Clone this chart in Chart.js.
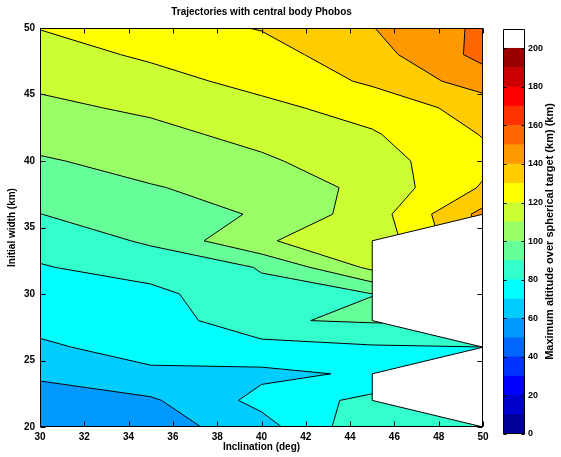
<!DOCTYPE html>
<html>
<head>
<meta charset="utf-8">
<script src="https://cdn.jsdelivr.net/npm/chart.js@4.4.1/dist/chart.umd.min.js"></script>
<style>
  html, body { margin: 0; padding: 0; background: #fff; }
  #wrap { position: relative; width: 561px; height: 457px; }
  #wrap canvas { position: absolute; top: 0; }
</style>
</head>
<body>
<div id="wrap">
  <canvas id="contourChart" width="561" height="457" style="left:0;width:561px;height:457px"></canvas>
  <canvas id="colorbarChart" width="71" height="457" style="left:490px;width:71px;height:457px"></canvas>
</div>
<script>
// Grid: inclination (deg) x initial width (km)
const inclination = [30, 35, 40, 45, 50];
const initialWidth = [20, 22, 24, 26, 28, 30, 32, 34, 36, 38, 40, 42, 44, 46, 48, 50];

// Maximum altitude (km) along each inclination column, bottom to top (null = no data)
const altitudeAt30 = [51, 56.5, 61.3, 69, 72, 75.7, 79.2, 84.5, 89.9, 94.5, 99.1, 103.4, 107.8, 112, 116, 120.3];
const altitudeAt35 = [55, 58.6, 68.8, 72.5, 73, 77, 85, 91.2, 95, 99.5, 103, 107.2, 111.7, 116.6, 121.5, 126];
const altitudeAt40 = [66, 73, 68, 76, 89.2, 88.5, 90.4, 109.5, 101, 103, 108.5, 113, 117.5, 123, 126.2, 130.5];
const altitudeAt45 = [88, 82.9, 71.2, 79, 91, 89.9, 112.3, 113, 115, 113, 116, 119, 124, 131.5, 136, 139.7];
const altitudeAt50 = [85, null, null, 79.9, null, null, null, null, 143, 131, 127.5, 130.5, 134, 145, 153, 152];

const altitudeColumns = [altitudeAt30, altitudeAt35, altitudeAt40, altitudeAt45, altitudeAt50];

// Contour levels and colours (jet, top band white)
const levels = [0, 10, 20, 30, 40, 50, 60, 70, 80, 90, 100, 110, 120, 130, 140, 150, 160, 170, 180, 190, 200, 210];
const bandColors = ['#000099', '#0000CC', '#0000FF', '#0033FF', '#0066FF', '#0099FF', '#00CCFF', '#00FFFF',
  '#33FFCC', '#66FF99', '#99FF66', '#CCFF33', '#FFFF00', '#FFCC00', '#FF9900', '#FF6600', '#FF3300',
  '#FF0000', '#CC0000', '#990000', '#FFFFFF'];
const colorbarTicks = [0, 20, 40, 60, 80, 100, 120, 140, 160, 180, 200];

const textFont = { family: '"Liberation Sans", Arial, sans-serif', size: 10, weight: 'bold' };
const smallFont = { family: '"Liberation Sans", Arial, sans-serif', size: 9, weight: 'bold' };
const fontCss = 'bold 10px "Liberation Sans", Arial, sans-serif';
const labelCss = 'bold 11px "Liberation Sans", Arial, sans-serif';

// grid points for the dataset
const gridPoints = [];
inclination.forEach((inc, i) => {
    initialWidth.forEach((w, j) => {
        if (altitudeColumns[i][j] !== null) gridPoints.push({ x: inc, y: w, v: altitudeColumns[i][j] });
    });
});

// Build cell polygons (quad, or triangle when one corner is missing)
function buildCells() {
    const cells = [];
    const edges = [];
    for (let i = 0; i < inclination.length - 1; i++) {
        for (let j = 0; j < initialWidth.length - 1; j++) {
            const corners = [
                { x: inclination[i], y: initialWidth[j], v: altitudeColumns[i][j] },
                { x: inclination[i + 1], y: initialWidth[j], v: altitudeColumns[i + 1][j] },
                { x: inclination[i + 1], y: initialWidth[j + 1], v: altitudeColumns[i + 1][j + 1] },
                { x: inclination[i], y: initialWidth[j + 1], v: altitudeColumns[i][j + 1] }
            ];
            const valid = corners.filter(c => c.v !== null);
            if (valid.length === 4) {
                cells.push(corners);
            } else if (valid.length === 3) {
                cells.push(valid);
                const k = corners.findIndex(c => c.v === null);
                edges.push([corners[(k + 1) % 4], corners[(k + 3) % 4]]);
            } else {
                for (let k = 0; k < 4; k++) {
                    const a = corners[k], b = corners[(k + 1) % 4];
                    if (a.v !== null && b.v !== null) edges.push([a, b]);
                }
            }
        }
    }
    return { cells, edges };
}

// Sutherland-Hodgman clip on the scalar value
function clipPoly(poly, L, keepAbove) {
    const inside = v => keepAbove ? v >= L : v <= L;
    const out = [];
    for (let i = 0; i < poly.length; i++) {
        const a = poly[i], b = poly[(i + 1) % poly.length];
        const ia = inside(a.v), ib = inside(b.v);
        if (ia) out.push(a);
        if (ia !== ib) {
            const t = (L - a.v) / (b.v - a.v);
            out.push({ x: a.x + t * (b.x - a.x), y: a.y + t * (b.y - a.y), v: L });
        }
    }
    return out;
}

// Contour segments for a level inside one cell
function levelSegments(poly, L) {
    const pts = [];
    for (let i = 0; i < poly.length; i++) {
        const a = poly[i], b = poly[(i + 1) % poly.length];
        const ia = a.v >= L, ib = b.v >= L;
        if (ia !== ib) {
            const t = (L - a.v) / (b.v - a.v);
            pts.push({ x: a.x + t * (b.x - a.x), y: a.y + t * (b.y - a.y), exit: ia });
        }
    }
    const segs = [];
    if (pts.length < 2) return segs;
    for (let k = 0; k < pts.length; k++) {
        if (pts[k].exit) segs.push([pts[k], pts[(k + 1) % pts.length]]);
    }
    return segs;
}

const contourPlugin = {
    id: 'contourFill',
    beforeDatasetsDraw(chart) {
        const { ctx, chartArea: area, scales: { x, y } } = chart;
        const toPx = p => [x.getPixelForValue(p.x), y.getPixelForValue(p.y)];
        const { cells, edges } = buildCells();
        ctx.save();
        ctx.beginPath();
        ctx.rect(area.left, area.top, area.width, area.height);
        ctx.clip();
        ctx.fillStyle = '#fff';
        ctx.fillRect(area.left, area.top, area.width, area.height);

        for (let k = 0; k < levels.length - 1; k++) {
            const lo = levels[k], hi = levels[k + 1];
            ctx.beginPath();
            let any = false;
            cells.forEach(poly => {
                let p = clipPoly(poly, lo, true);
                if (p.length < 3) return;
                p = clipPoly(p, hi, false);
                if (p.length < 3) return;
                any = true;
                p.forEach((pt, i) => {
                    const [X, Y] = toPx(pt);
                    if (i) ctx.lineTo(X, Y); else ctx.moveTo(X, Y);
                });
                ctx.closePath();
            });
            if (any) {
                ctx.fillStyle = bandColors[k];
                ctx.fill();
            }
        }

        ctx.strokeStyle = '#000';
        ctx.lineWidth = 1;
        ctx.lineJoin = 'round';
        ctx.beginPath();
        levels.forEach(L => {
            cells.forEach(poly => {
                levelSegments(poly, L).forEach(([a, b]) => {
                    const [ax, ay] = toPx(a), [bx, by] = toPx(b);
                    ctx.moveTo(ax, ay);
                    ctx.lineTo(bx, by);
                });
            });
        });
        edges.forEach(([a, b]) => {
            const [ax, ay] = toPx(a), [bx, by] = toPx(b);
            ctx.moveTo(ax, ay);
            ctx.lineTo(bx, by);
        });
        ctx.stroke();
        ctx.restore();
    },
    afterDatasetsDraw(chart) {
        const { ctx, chartArea: area, scales: { x, y } } = chart;
        const L = Math.round(area.left) + 0.5, R = Math.round(area.right) - 0.5;
        const T = Math.round(area.top) + 0.5, B = Math.round(area.bottom) - 0.5;
        ctx.save();
        ctx.strokeStyle = '#000';
        ctx.lineWidth = 1;
        ctx.beginPath();
        ctx.rect(L, T, R - L, B - T);
        x.ticks.forEach(t => {
            const X = Math.round(x.getPixelForValue(t.value)) + 0.5;
            ctx.moveTo(X, B); ctx.lineTo(X, B - 5);
            ctx.moveTo(X, T); ctx.lineTo(X, T + 5);
        });
        y.ticks.forEach(t => {
            const Y = Math.round(y.getPixelForValue(t.value)) + 0.5;
            ctx.moveTo(L, Y); ctx.lineTo(L + 5, Y);
            ctx.moveTo(R, Y); ctx.lineTo(R - 5, Y);
        });
        ctx.stroke();
        // title
        ctx.fillStyle = '#000';
        ctx.font = fontCss;
        ctx.textAlign = 'center';
        ctx.textBaseline = 'middle';
        ctx.fillText('Trajectories with central body Phobos', (area.left + area.right) / 2, 12);
        ctx.restore();
    }
};

new Chart(document.getElementById('contourChart'), {
    type: 'scatter',
    data: { datasets: [{ data: gridPoints, pointRadius: 0, showLine: false }] },
    options: {
        responsive: false,
        animation: false,
        layout: { padding: { top: 28, right: 78, left: 0, bottom: 0 } },
        plugins: { legend: { display: false }, tooltip: { enabled: false } },
        scales: {
            x: {
                type: 'linear', min: 30, max: 50,
                ticks: { stepSize: 2, font: textFont, color: '#000', padding: 4, maxRotation: 0 },
                grid: { display: false, drawTicks: false },
                border: { display: false },
                title: { display: true, text: 'Inclination (deg)', font: textFont, color: '#000', padding: { top: 0, bottom: 4 } },
                afterFit: s => { s.height = 30; }
            },
            y: {
                type: 'linear', min: 20, max: 50,
                ticks: { stepSize: 5, font: textFont, color: '#000', padding: 5 },
                grid: { display: false, drawTicks: false },
                border: { display: false },
                title: { display: true, text: 'Initial width (km)', font: textFont, color: '#000', padding: { top: 6, bottom: 0 } },
                afterFit: s => { s.width = 40; }
            }
        }
    },
    plugins: [contourPlugin]
});

// Colorbar
const colorbarFrame = {
    id: 'colorbarFrame',
    afterDatasetsDraw(chart) {
        const { ctx, chartArea: area, scales: { y } } = chart;
        const L = Math.round(area.left) + 0.5, R = Math.round(area.right) - 0.5;
        const T = Math.round(area.top) + 0.5, B = Math.round(area.bottom) - 0.5;
        ctx.save();
        ctx.strokeStyle = '#000';
        ctx.lineWidth = 1;
        ctx.beginPath();
        ctx.rect(L, T, R - L, B - T);
        y.ticks.forEach(t => {
            const Y = Math.round(y.getPixelForValue(t.value)) + 0.5;
            ctx.moveTo(L, Y); ctx.lineTo(L + 3, Y);
            ctx.moveTo(R, Y); ctx.lineTo(R - 3, Y);
        });
        ctx.stroke();
        ctx.fillStyle = '#000';
        ctx.font = labelCss;
        ctx.textAlign = 'center';
        ctx.textBaseline = 'middle';
        ctx.translate(60, (area.top + area.bottom) / 2);
        ctx.rotate(-Math.PI / 2);
        ctx.fillText('Maximum altitude over spherical target (km) (km)', 0, 0);
        ctx.restore();
    }
};

new Chart(document.getElementById('colorbarChart'), {
    type: 'bar',
    data: {
        labels: [''],
        datasets: bandColors.map((c, k) => ({
            data: [levels[k + 1] - levels[k]],
            backgroundColor: c,
            borderWidth: 0,
            barPercentage: 1,
            categoryPercentage: 1
        }))
    },
    options: {
        responsive: false,
        animation: false,
        layout: { padding: { top: 29, left: 13, right: 0, bottom: 23 } },
        plugins: { legend: { display: false }, tooltip: { enabled: false } },
        scales: {
            x: { display: false, stacked: true },
            y: {
                stacked: true, position: 'right', min: 0, max: 210,
                afterBuildTicks: s => { s.ticks = colorbarTicks.map(v => ({ value: v })); },
                ticks: { font: smallFont, color: '#000', padding: 3 },
                grid: { display: false, drawTicks: false },
                border: { display: false },
                afterFit: s => { s.width = 36; }
            }
        }
    },
    plugins: [colorbarFrame]
});
</script>
</body>
</html>
